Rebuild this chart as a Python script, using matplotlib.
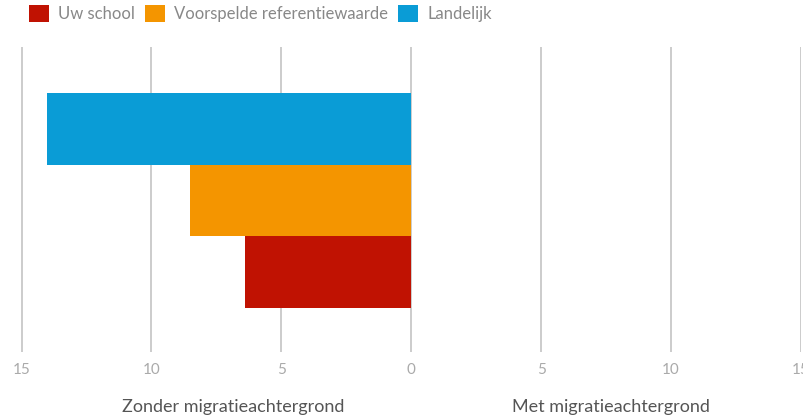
import matplotlib
matplotlib.use("Agg")
import matplotlib.pyplot as plt
from matplotlib.patches import Patch

plt.rcParams['font.family'] = ['Lato', 'DejaVu Sans']

# data
groepen = ['Zonder migratieachtergrond', 'Met migratieachtergrond']
series = ['Uw school', 'Voorspelde referentiewaarde', 'Landelijk']
kleuren = ['#c01202', '#f49500', '#0a9cd6']
uw_school = [6.4, 0]
referentie = [8.5, 0]
landelijk = [14.0, 0]
ticks = [-15, -10, -5, 0, 5, 10, 15]

waarden = [uw_school, referentie, landelijk]
rijen = [-1, 0, 1]  # red bottom, blue top

fig = plt.figure(figsize=(8.04, 4.18), dpi=100)
ax = fig.add_axes([21.5 / 804, 1 - 352 / 418, (801 - 21.5) / 804, (352 - 47) / 418])

for vals, kleur, y in zip(waarden, kleuren, rijen):
    # left half: zonder (negative), right half: met (positive)
    ax.barh(y, -vals[0], height=1.0, color=kleur, zorder=2)
    ax.barh(y, vals[1], height=1.0, color=kleur, zorder=2)

ax.set_xlim(-15, 15)
ax.set_ylim(-2.11, 2.14)
ax.set_xticks(ticks)
ax.set_xticklabels([str(abs(t)) for t in ticks])
ax.set_yticks([])
ax.grid(axis='x', color='#c4c4c4', linewidth=1.2, zorder=1)
for s in ax.spines.values():
    s.set_visible(False)
ax.tick_params(axis='x', length=0, pad=8, labelsize=11, labelcolor='#aaaaaa')

fig.text(233 / 804, 1 - 407 / 418, groepen[0], ha='center', va='center',
         fontsize=13, color='#555555')
fig.text(611 / 804, 1 - 407 / 418, groepen[1], ha='center', va='center',
         fontsize=13, color='#555555')

handles = [Patch(facecolor=k, edgecolor='none') for k in kleuren]
fig.legend(handles, series, loc='upper left', bbox_to_anchor=(29 / 804, 1 - 5 / 418),
           ncol=3, frameon=False, fontsize=12, labelcolor='#888888',
           handlelength=1.2, handleheight=1.2, handletextpad=0.55,
           columnspacing=0.6, borderaxespad=0, borderpad=0)

fig.savefig('out.png', dpi=100)
